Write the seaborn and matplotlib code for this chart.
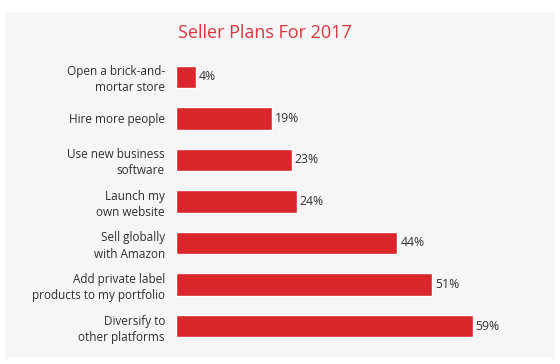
import matplotlib
matplotlib.use("Agg")
import matplotlib.pyplot as plt
import seaborn as sns
import pandas as pd
from matplotlib.patches import Rectangle

categories = [
    "Open a brick-and-\nmortar store",
    "Hire more people",
    "Use new business\nsoftware",
    "Launch my\nown website",
    "Sell globally\nwith Amazon",
    "Add private label\nproducts to my portfolio",
    "Diversify to\nother platforms",
]
values = [4, 19, 23, 24, 44, 51, 59]
value_labels = ["4%", "19%", "23%", "24%", "44%", "51%", "59%"]
title = "Seller Plans For 2017"

sns.set_theme(style="white")
plt.rcParams['font.family'] = ['Open Sans', 'DejaVu Sans']

df = pd.DataFrame({"plan": categories, "pct": values})

W, H = 560, 364
fig = plt.figure(figsize=(5.6, 3.64), dpi=100)
fig.patch.set_facecolor("white")
panel = Rectangle((5 / W, 1 - 358 / H), 550 / W, 346 / H, transform=fig.transFigure,
                  facecolor="#f6f6f6", edgecolor="none", zorder=-5)
fig.patches.append(panel)

ax_left, ax_right = 176, 528
ax_top, ax_bot = 56.25, 346.75
ax = fig.add_axes([ax_left / W, 1 - ax_bot / H, (ax_right - ax_left) / W, (ax_bot - ax_top) / H])
ax.set_facecolor("none")
ax.set_zorder(2)

sns.barplot(data=df, x="pct", y="plan", color="#d8262a", saturation=1, width=0.55, ax=ax)
ax.set_xlim(0, 70)
ax.set_ylim(6.5, -0.5)

for i, (v, lab) in enumerate(zip(values, value_labels)):
    ax.text(v + 0.6, i, lab, va="center", ha="left", fontsize=8.8, color="#333333")

ax.set_xlabel("")
ax.set_ylabel("")
ax.set_xticks([])
ax.tick_params(axis="y", length=0, pad=8, labelsize=8.5, labelcolor="#2f2f2f")
for lbl in ax.get_yticklabels():
    lbl.set_horizontalalignment("right")
    lbl.set_multialignment("right")
    lbl.set_linespacing(1.3)
for s in ax.spines.values():
    s.set_visible(False)

fig.text(265 / W, 1 - 33 / H, title, ha="center", va="center", fontsize=13, color="#d9363e")

fig.savefig("out.png", dpi=100, facecolor="white")
